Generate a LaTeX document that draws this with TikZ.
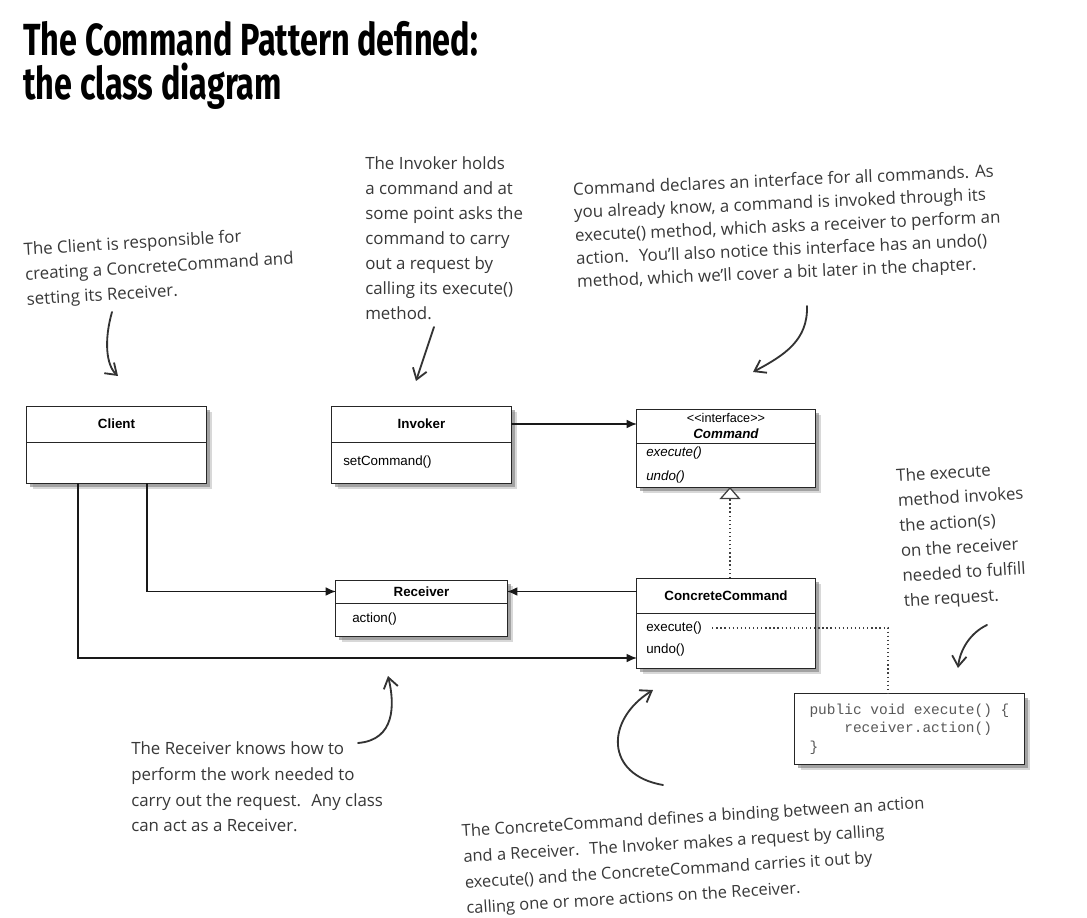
\documentclass[tikz,border=0pt]{standalone}
\usepackage{fontspec}
\usepackage{graphicx}
\usepackage{tikz}
\usetikzlibrary{arrows.meta,positioning,shadows,calc}
\newfontfamily\umlfont{Liberation Sans}
\newfontfamily\codefont{Liberation Mono}
\newfontfamily\handfont{Open Sans}
\newfontfamily\titlefont{Fira Sans}
\tikzset{
  uml/.style={draw=black!85, line width=0.7pt, fill=white, inner sep=0pt,
              outer sep=0pt, font=\umlfont\fontsize{9.5}{12}\selectfont,
              drop shadow={shadow xshift=2.5pt, shadow yshift=-2.5pt, opacity=.6},
              drop shadow={shadow xshift=4.5pt, shadow yshift=-4.5pt, opacity=.3}},
  classhead/.style={uml, font=\umlfont\bfseries\fontsize{9.5}{12}\selectfont,
                    align=center},
  classbody/.style={uml},
  method/.style={anchor=west, inner sep=0pt, font=\umlfont\fontsize{9.5}{12}\selectfont},
  codebox/.style={uml, align=left, text=black!65,
                  font=\codefont\fontsize{10.3}{13.2}\selectfont},
  assoc/.style={draw=black!90, line width=1.1pt, -{Latex[length=2.6mm,width=2.2mm]}},
  realize/.style={draw=black!75, line width=0.9pt, dash pattern=on 0.9pt off 2pt,
                  -{Triangle[open,length=3mm,width=5.2mm,fill=white]}},
  notelink/.style={draw=black!75, line width=0.9pt, dash pattern=on 0.9pt off 2pt},
  note/.style={font=\handfont\fontsize{12}{17.8}\selectfont, text=black!78,
               align=left, inner sep=0pt, anchor=west},
  hand/.style={draw=black!80, line width=1.3pt, line cap=round,
               -{Straight Barb[length=2.6mm,width=3.6mm]}},
  titletext/.style={anchor=base west, inner sep=0pt,
                    font=\titlefont\bfseries\fontsize{32}{36}\selectfont},
}
\begin{document}
\begin{tikzpicture}[x=0.025cm, y=-0.025cm]
  \path[fill=white, use as bounding box] (0,0) rectangle (1087,918);
  % title
  \node[titletext] (title1) at (23,56) {\scalebox{0.72}[1]{The Command Pattern defined:}};
  \node[titletext] (title2) at (23,100) {\scalebox{0.72}[1]{the class diagram}};
  % classes
  \node[classhead, minimum width=4.475cm, minimum height=0.9cm] (clientH)
    at (116.5,424) {Client};
  \node[classbody, minimum width=4.475cm, minimum height=1.025cm,
        below=0pt of clientH] (client) {};
  \node[classhead, minimum width=4.475cm, minimum height=0.9cm] (invokerH)
    at (421.5,424) {Invoker};
  \node[classbody, minimum width=4.475cm, minimum height=1.025cm,
        below=0pt of invokerH] (invoker) {};
  \node[method] (setCmd) at ($(invoker.west)+(11,0)$) {setCommand()};
  \node[classhead, minimum width=4.45cm, minimum height=0.85cm] (commandH)
    at (726,426) {{\mdseries\fontsize{9}{10}\selectfont
    <{}<interface>{}>}\\[-1pt]\itshape Command};
  \node[classbody, minimum width=4.45cm, minimum height=1.1cm,
        below=0pt of commandH] (command) {};
  \node[method, font=\umlfont\itshape\fontsize{9.5}{12}\selectfont] (cmdExec)
    at ($(command.west)+(9,-12)$) {execute()};
  \node[method, font=\umlfont\itshape\fontsize{9.5}{12}\selectfont] (cmdUndo)
    at ($(command.west)+(9,12)$) {undo()};
  \node[classhead, minimum width=4.45cm, minimum height=0.875cm] (ccH)
    at (726,595.5) {ConcreteCommand};
  \node[classbody, minimum width=4.45cm, minimum height=1.375cm,
        below=0pt of ccH] (cc) {};
  \node[method] (ccExec) at ($(cc.west)+(9,-12.5)$) {execute()};
  \node[method] (ccUndo) at ($(cc.west)+(9,9.5)$) {undo()};
  \node[classhead, minimum width=4.275cm, minimum height=0.575cm] (receiverH)
    at (421.5,591.5) {Receiver};
  \node[classbody, minimum width=4.275cm, minimum height=0.825cm,
        below=0pt of receiverH] (receiver) {};
  \node[method] (action) at ($(receiver.west)+(16,0)$) {action()};
  \node[codebox, minimum width=5.725cm, minimum height=1.75cm] (code)
    at (909.5,729) {public void execute() \{\\
    \ \ \ \ receiver.action()\\
    \}\hphantom{ublic void execute() \{}};
  % connectors
  \draw[assoc] (invokerH.east) -- (invokerH.east -| commandH.west);
  \draw[assoc] (receiverH.east -| ccH.west) -- (receiverH.east);
  \draw[assoc] ($(client.south)+(30.5,0)$) |- (receiverH.west);
  \draw[assoc] ($(client.south)+(-38.5,0)$) |- ($(cc.west)+(0,17.5)$);
  \draw[realize] ($(ccH.north)+(4,0)$) -- ($(command.south)+(4,0)$);
  \draw[notelink] ($(ccExec.east)+(10,0)$) -| ($(code.north)+(-21.5,0)$);
  % notes
  \node[note, rotate=3.5] (clientNote) at (25,276)
    {The Client is responsible for\\creating a ConcreteCommand and\\setting its Receiver.};
  \node[note] (invokerNote) at (365,238)
    {The Invoker holds\\a command and at\\some point asks the\\command to carry\\out a
     request by\\calling its execute()\\method.};
  \node[note, rotate=2.5, font=\handfont\fontsize{12}{16.4}\selectfont] (commandNote)
    at (575,237)
    {Command declares an interface for all commands. As\\you already know, a command
     is invoked through its\\execute() method, which asks a receiver to perform an\\action.~
     You’ll also notice this interface has an undo()\\method, which we’ll cover a bit later
     in the chapter.};
  \node[note, font=\handfont\fontsize{12}{18.3}\selectfont] (receiverNote) at (131,787)
    {The Receiver knows how to\\perform the work needed to\\carry out the request.~ Any
     class\\can act as a Receiver.};
  \node[note, rotate=3.5, font=\handfont\fontsize{11.7}{18.3}\selectfont] (ccNote)
    at (464,871)
    {The ConcreteCommand defines a binding between an action\\and a Receiver.~ The Invoker
     makes a request by calling\\execute() and the ConcreteCommand carries it out
     by\\calling one or more actions on the Receiver.};
  \node[note, rotate=3.5] (execNote) at (900,540)
    {The execute\\method invokes\\the action(s)\\on the receiver\\needed to fulfill\\the
     request.};
  % hand-drawn pointers
  \coordinate (clientArrS) at (112,312);
  \coordinate (clientArrE) at (118,376);
  \coordinate (invokerArrS) at (434,327);
  \coordinate (invokerArrE) at (416,381);
  \coordinate (commandArrS) at (807,306);
  \coordinate (commandArrE) at (753,372);
  \coordinate (receiverArrS) at (358,743);
  \coordinate (receiverArrE) at (388,676);
  \coordinate (ccArrS) at (663,785);
  \coordinate (ccArrE) at (653,690);
  \coordinate (execArrS) at (987,625);
  \coordinate (execArrE) at (958,668);
  \draw[hand] (clientArrS) .. controls (104,340) and (106,365) .. (clientArrE);
  \draw[hand] (invokerArrS) -- (invokerArrE);
  \draw[hand] (commandArrS) .. controls (808,340) and (785,355) .. (commandArrE);
  \draw[hand] (receiverArrS) .. controls (395,740) and (395,705) .. (receiverArrE);
  \draw[hand] (ccArrS) .. controls (605,775) and (605,720) .. (ccArrE);
  \draw[hand] (execArrS) .. controls (970,633) and (960,650) .. (execArrE);
\end{tikzpicture}
\end{document}
